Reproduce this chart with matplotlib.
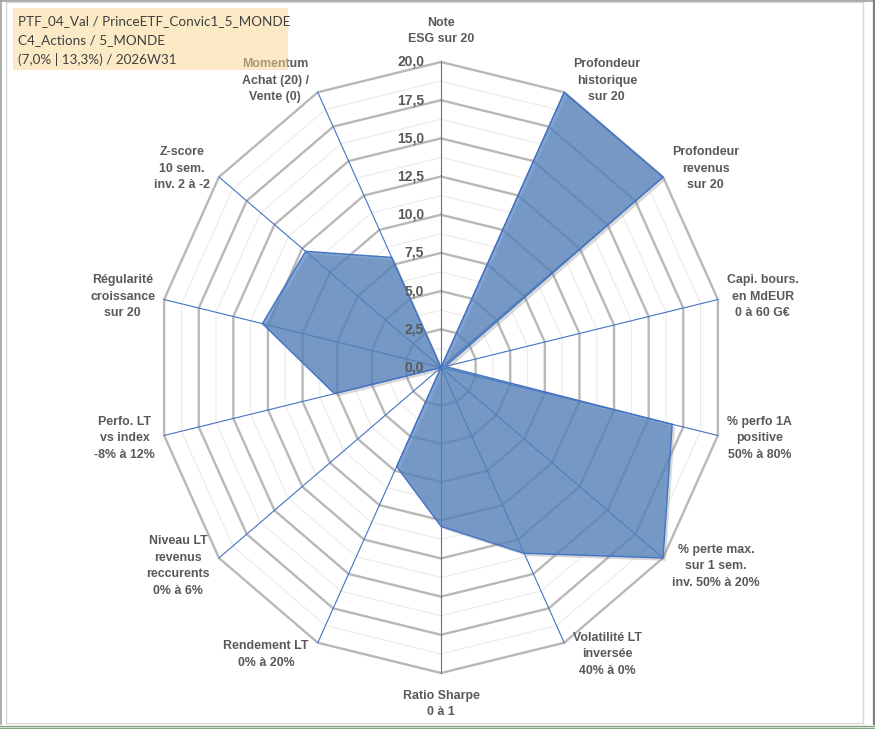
import numpy as np
import matplotlib
matplotlib.use("Agg")
import matplotlib.pyplot as plt
from matplotlib.patches import Polygon, Rectangle
from matplotlib.lines import Line2D
import matplotlib.patheffects as pe

# ---------------- data ----------------
categories = [
    "Note\nESG sur 20",
    "Profondeur\nhistorique\nsur 20",
    "Profondeur\nrevenus\nsur 20",
    "Capi. bours.\nen MdEUR\n0 à 60 G€",
    "% perfo 1A\npositive\n50% à 80%",
    "% perte max.\nsur 1 sem.\ninv. 50% à 20%",
    "Volatilité LT\ninversée\n40% à 0%",
    "Ratio Sharpe\n0 à 1",
    "Rendement LT\n0% à 20%",
    "Niveau LT\nrevenus\nreccurents\n0% à 6%",
    "Perfo. LT\nvs index\n-8% à 12%",
    "Régularité\ncroissance\nsur 20",
    "Z-score\n10 sem.\ninv. 2 à -2",
    "Momentum\nAchat (20) /\nVente (0)",
]
values = [0.0, 20.0, 20.0, 0.3, 16.7, 20.0, 13.5, 10.4, 7.2, 0.0, 7.7, 12.9, 12.2, 8.0]
tick_values = [0.0, 2.5, 5.0, 7.5, 10.0, 12.5, 15.0, 17.5, 20.0]
tick_labels = ["0,0", "2,5", "5,0", "7,5", "10,0", "12,5", "15,0", "17,5", "20,0"]
minor_values = [1.25, 3.75, 6.25, 8.75, 11.25, 13.75, 16.25, 18.75]
title_lines = ["PTF_04_Val / PrinceETF_Convic1_5_MONDE",
               "C4_Actions / 5_MONDE",
               "(7,0% | 13,3%) / 2026W31"]
rmax = 20.0

# ---------------- figure ----------------
W, H, DPI = 875, 729, 100
fig = plt.figure(figsize=(W / DPI, H / DPI), dpi=DPI)
fig.patch.set_facecolor("white")

# axes geometry: center (441, 367.5 from top), x-radius 284 px, y-radius 305.5 px for 20
cx, cy = 441.0, H - 367.5
rx, ry = 284.0, 305.5
L = 22.0
aw = 2 * L / rmax * rx
ah = 2 * L / rmax * ry
ax = fig.add_axes([(cx - aw / 2) / W, (cy - ah / 2) / H, aw / W, ah / H])
ax.set_xlim(-L, L)
ax.set_ylim(-L, L)
ax.axis("off")

n = len(categories)
theta = np.deg2rad(90 - np.arange(n) * 360.0 / n)
ct, st = np.cos(theta), np.sin(theta)

def ring(r):
    xs = np.append(r * ct, r * ct[0])
    ys = np.append(r * st, r * st[0])
    return xs, ys

for r in minor_values:
    xs, ys = ring(r)
    ax.plot(xs, ys, color="#EBEBEB", lw=0.8, zorder=1)
for r in tick_values[1:]:
    xs, ys = ring(r)
    ax.plot(xs, ys, color="#B8B8B8", lw=1.7, zorder=2)
for i in range(n):
    ax.plot([0, rmax * ct[i]], [0, rmax * st[i]], color="#4472C4", lw=0.8, zorder=3)

vals = np.array(values)
poly = Polygon(np.column_stack([vals * ct, vals * st]), closed=True,
               facecolor=(0x4F / 255, 0x81 / 255, 0xBD / 255, 0.72),
               edgecolor="#4472C4", lw=1.0, zorder=4)
poly.set_path_effects([pe.SimplePatchShadow(offset=(2, -2), shadow_rgbFace="#7f7f7f", alpha=0.3),
                       pe.Normal()])
ax.add_patch(poly)

# tick labels
for v, t in zip(tick_values, tick_labels):
    ax.annotate(t, xy=(0, v), xytext=(-17, 0), textcoords="offset pixels",
                ha="right", va="center", fontsize=10, fontweight="bold",
                color="#595959", family="Liberation Sans", zorder=6)

# category labels
for i, lab in enumerate(categories):
    px, py = rmax * ct[i], rmax * st[i]
    if abs(ct[i]) < 0.05:
        ha = "center"
        off = (0, 31 if st[i] > 0 else -31)
    else:
        ha = "left" if ct[i] > 0 else "right"
        off = (9 if ct[i] > 0 else -9, 13 * st[i])
    ax.annotate(lab, xy=(px, py), xytext=off, textcoords="offset pixels",
                ha=ha, va="center", multialignment="center",
                fontsize=8.9, fontweight="bold", color="#595959",
                family="Liberation Sans", linespacing=1.5, annotation_clip=False, zorder=6)

# title box (semi-transparent, on top)
box = Rectangle((13 / W, (H - 70) / H), 275 / W, 62 / H, transform=fig.transFigure,
                facecolor="#FBD791", alpha=0.5, edgecolor="none", zorder=10)
fig.add_artist(box)
for k, line in enumerate(title_lines):
    fig.text(18 / W, (H - 21 - 19 * k) / H, line, ha="left", va="center",
             fontsize=9.7, color="#404040", family="Lato", zorder=11)

# frame lines
def fline(x0, y0, x1, y1, color, lw):
    fig.add_artist(Line2D([x0 / W, x1 / W], [1 - y0 / H, 1 - y1 / H],
                          transform=fig.transFigure, color=color, lw=lw, zorder=12))

fline(6, 2, 863, 2, "#D9D9D9", 1.0)
fline(6, 2, 6, 723, "#D9D9D9", 1.0)
fline(863, 2, 863, 723, "#D9D9D9", 1.0)
fline(6, 723, 863, 723, "#D9D9D9", 1.0)
fline(0.5, 0, 0.5, 724, "#A0A0A0", 1.2)
fline(0, 0.5, 875, 0.5, "#A0A0A0", 1.2)
fline(873.5, 0, 873.5, 724, "#808080", 1.6)
fline(0, 726, 875, 726, "#7FA67F", 1.0)
fline(0, 728.3, 875, 728.3, "#7FA67F", 1.0)

fig.savefig("out.png", dpi=DPI, facecolor="white")
